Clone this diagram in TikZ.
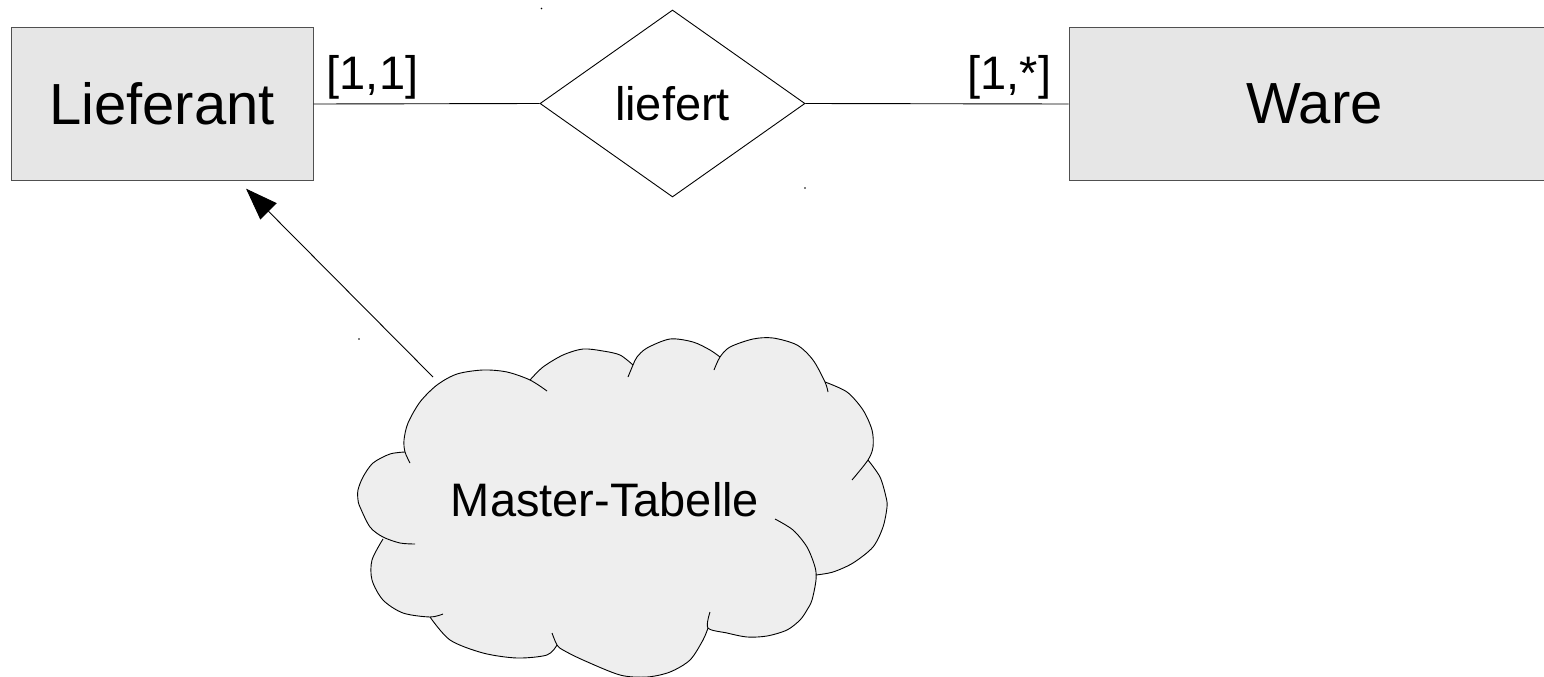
\documentclass[tikz,border=0pt]{standalone}
\usepackage{fontspec}
\setmainfont{Liberation Sans}
\usetikzlibrary{shapes.geometric,arrows.meta}
\definecolor{boxfill}{HTML}{E6E6E6}
\definecolor{boxline}{HTML}{505050}
\definecolor{cloudfill}{HTML}{EEEEEE}
\begin{document}
\begin{tikzpicture}[x=1pt,y=-1pt,
  entity/.style={draw=boxline,fill=boxfill,line width=1pt,rectangle,minimum height=152pt,inner sep=0pt,font=\fontsize{58}{60}\selectfont},
  relation/.style={draw=black,fill=white,diamond,minimum width=265pt,minimum height=187pt,inner sep=0pt,line width=0.9pt,font=\fontsize{47}{50}\selectfont},
  card/.style={inner sep=0pt,font=\fontsize{47}{50}\selectfont},
  conn/.style={draw=black,line width=0.9pt},
  puff/.style={draw=black,line width=0.9pt},
  arrowline/.style={draw=black,line width=0.9pt,-{Triangle[length=32pt,width=23pt]}},
  dotmark/.style={fill=black}]
\useasboundingbox (0,0) rectangle (1544,677);
\fill[white] (0,0) rectangle (1544,677);

% entities and relation
\node[entity,minimum width=302pt] (L) at (162,104) {Lieferant};
\node[entity,minimum width=491pt] (W) at (1314.5,104) {Ware};
\node[relation] (R) at (672.5,103.5) {liefert};

\draw[conn] (L.east) -- (R.west);
\draw[conn] (R.east) -- (W.west);

\node[card,anchor=base] (c1) at (372.5,89) {[1,1]};
\node[card,anchor=base] (c2) at (1009.5,89) {[1,*]};

% cloud fill
\fill[cloudfill]
  plot[smooth] coordinates {(405,452) (404,440) (408,423) (420,402) (437,385) (457,374) (483,370) (507,372) (530,380)}
  -- plot[smooth] coordinates {(530,380) (543,367) (563,355) (583,349) (603,351) (620,355) (633,365)}
  -- plot[smooth] coordinates {(633,365) (637,357) (647,348) (670,339) (693,342) (710,350) (720,357)}
  -- plot[smooth] coordinates {(720,357) (730,347) (753,339) (773,338) (797,345) (813,360) (825,382)}
  -- plot[smooth] coordinates {(825,382) (847,392) (863,410) (872,430) (873,447) (868,460)}
  -- plot[smooth] coordinates {(868,460) (880,477) (886,497) (887,507) (883,527) (873,547) (853,563) (833,572) (816,575)}
  -- plot[smooth] coordinates {(816,575) (815,590) (812,600) (807,610) (800,620) (787,630) (767,636) (747,637) (727,633) (708,628)}
  -- plot[smooth] coordinates {(708,628) (703,640) (690,660) (670,672) (647,677) (620,675) (583,660) (563,650) (557,645)}
  -- plot[smooth] coordinates {(557,645) (547,655) (517,658) (483,653) (450,640) (430,617)}
  -- plot[smooth] coordinates {(430,617) (403,613) (383,600) (372,580) (372,560) (383,539)}
  -- plot[smooth] coordinates {(383,539) (370,527) (360,507) (358,500) (358,490) (363,477) (373,463) (390,454) (405,452)}
  -- cycle;

% cloud outline puffs
\draw[puff] plot[smooth] coordinates {(410,463) (405,452) (404,440) (408,423) (420,402) (437,385) (457,374) (483,370) (507,372) (530,380) (547,391)};
\draw[puff] plot[smooth] coordinates {(530,380) (543,367) (563,355) (583,349) (603,351) (620,355) (633,365)};
\draw[puff] plot[smooth] coordinates {(628,377) (633,365) (637,357) (647,348) (670,339) (693,342) (710,350) (720,357)};
\draw[puff] plot[smooth] coordinates {(714,370) (720,357) (730,347) (753,339) (773,338) (797,345) (813,360) (825,382) (828,392)};
\draw[puff] plot[smooth] coordinates {(825,382) (847,392) (863,410) (872,430) (873,447) (868,460) (852,480)};
\draw[puff] plot[smooth] coordinates {(868,460) (880,477) (886,497) (887,507) (883,527) (873,547) (853,563) (833,572) (816,575)};
\draw[puff] plot[smooth] coordinates {(775,519) (793,530) (807,547) (815,567) (816,580) (812,600) (807,610) (800,620) (787,630) (767,636) (747,637) (727,633) (708,628) (710,612)};
\draw[puff] plot[smooth] coordinates {(708,628) (703,640) (690,660) (670,672) (647,677) (620,675) (583,660) (563,650) (557,645) (552,633)};
\draw[puff] plot[smooth] coordinates {(557,645) (547,655) (517,658) (483,653) (450,640) (430,617)};
\draw[puff] plot[smooth] coordinates {(383,539) (372,560) (372,580) (383,600) (403,613) (430,617) (443,614)};
\draw[puff] plot[smooth] coordinates {(405,452) (390,454) (373,463) (363,477) (358,490) (358,500) (360,507) (370,527) (383,537) (400,543) (415,544)};

\node[font=\fontsize{47}{50}\selectfont,inner sep=0pt] (M) at (605,500) {Master-Tabelle};

% arrow from cloud to Lieferant
\coordinate (cloudtop) at (433,377);
\draw[arrowline,shorten >=11.5pt] (cloudtop) -- (L);

% stray dots
\fill[dotmark] (541.5,8.5) circle (0.8);
\fill[dotmark] (805,188) circle (0.8);
\fill[dotmark] (359,339) circle (0.8);
\end{tikzpicture}
\end{document}
